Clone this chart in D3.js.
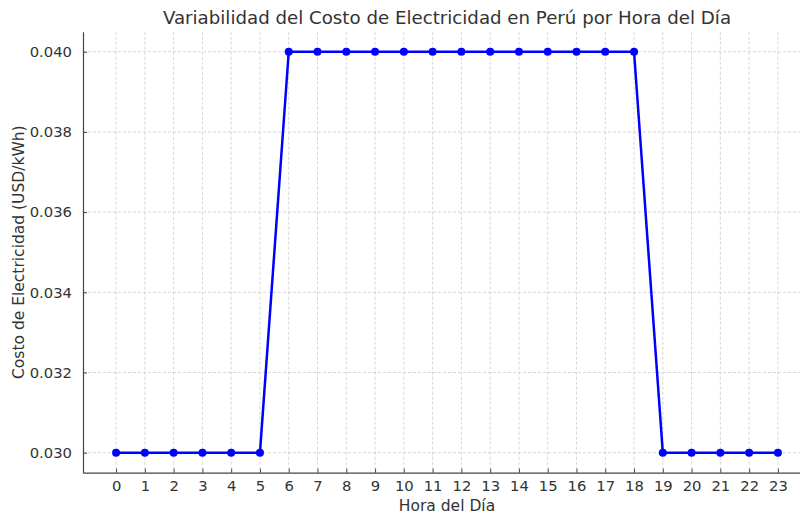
<!DOCTYPE html>
<html><head><meta charset="utf-8">
<script src="https://cdn.jsdelivr.net/npm/d3@7/dist/d3.min.js"></script>
<style>body{margin:0;background:#fff;} text{font-family:"DejaVu Sans",sans-serif;}</style>
</head><body>
<svg id="c" width="800" height="515"></svg>
<script>
const hours = [0,1,2,3,4,5,6,7,8,9,10,11,12,13,14,15,16,17,18,19,20,21,22,23];
const costs = [0.030,0.030,0.030,0.030,0.030,0.030,0.040,0.040,0.040,0.040,0.040,0.040,0.040,0.040,0.040,0.040,0.040,0.040,0.040,0.030,0.030,0.030,0.030,0.030];
const yTicks = [0.030,0.032,0.034,0.036,0.038,0.040];
const title = "Variabilidad del Costo de Electricidad en Perú por Hora del Día";
const xLabel = "Hora del Día";
const yLabel = "Costo de Electricidad (USD/kWh)";

const svg = d3.select("#c");
const L = 83, R = 811, T = 31.7, B = 472.7;
const x = d3.scaleLinear().domain([-1.15, 24.15]).range([L, R]);
const y = d3.scaleLinear().domain([0.0295, 0.0405]).range([B, T]);
const txt = "#333";

// grid
svg.append("g").selectAll("line").data(hours).join("line")
  .attr("x1", d => x(d)).attr("x2", d => x(d)).attr("y1", T).attr("y2", B)
  .attr("stroke", "#cccccc").attr("stroke-width", 0.8).attr("stroke-dasharray", "3,2");
svg.append("g").selectAll("line").data(yTicks).join("line")
  .attr("x1", L).attr("x2", R).attr("y1", d => y(d)).attr("y2", d => y(d))
  .attr("stroke", "#cccccc").attr("stroke-width", 0.8).attr("stroke-dasharray", "3,2");

// axes
const xAxis = d3.axisBottom(x).tickValues(hours).tickSizeInner(-4).tickSizeOuter(0).tickPadding(8);
const gx = svg.append("g").attr("transform", `translate(0,${B})`).call(xAxis);
const yAxis = d3.axisLeft(y).tickValues(yTicks).tickFormat(d3.format(".3f")).tickSizeInner(-4).tickSizeOuter(0).tickPadding(10);
const gy = svg.append("g").attr("transform", `translate(${L},0)`).call(yAxis);
[gx, gy].forEach(g => {
  g.select(".domain").attr("stroke", "#444").attr("stroke-width", 1.2);
  g.selectAll(".tick line").attr("stroke", "#444").attr("stroke-width", 1);
  g.selectAll(".tick text").attr("fill", txt).style("font-size", "14.8px").style("font-family", "DejaVu Sans, sans-serif");
});
gy.selectAll(".tick text").attr("dx", "-1");

// line
const line = d3.line().x((d, i) => x(hours[i])).y(d => y(d));
svg.append("path").datum(costs).attr("d", line)
  .attr("fill", "none").attr("stroke", "#0000ff").attr("stroke-width", 2.5).attr("stroke-linejoin", "round");
svg.append("g").selectAll("circle").data(costs).join("circle")
  .attr("cx", (d, i) => x(hours[i])).attr("cy", d => y(d)).attr("r", 4).attr("fill", "#0000ff");

// labels
svg.append("text").attr("x", (L + R) / 2).attr("y", 24).attr("text-anchor", "middle")
  .attr("fill", txt).style("font-size", "18.2px").text(title);
svg.append("text").attr("x", (L + R) / 2).attr("y", 511).attr("text-anchor", "middle")
  .attr("fill", txt).style("font-size", "15.5px").text(xLabel);
svg.append("text").attr("transform", `translate(24,${(T + B) / 2}) rotate(-90)`).attr("text-anchor", "middle")
  .attr("fill", txt).style("font-size", "15.5px").text(yLabel);
</script>
</body></html>
